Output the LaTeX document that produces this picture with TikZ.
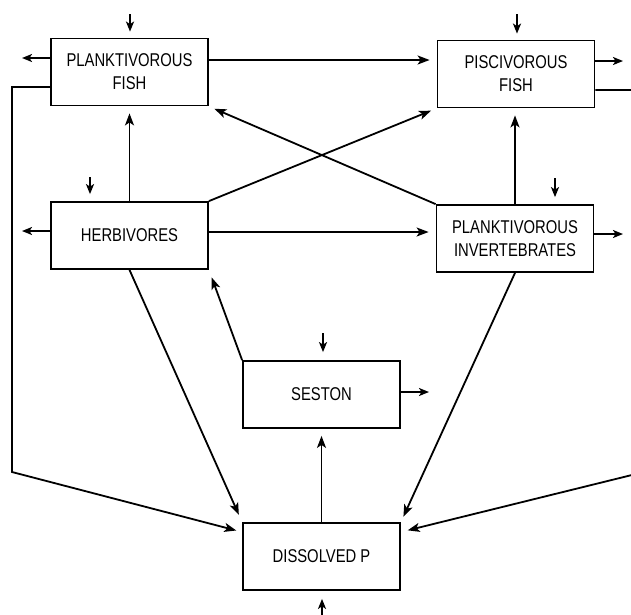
\documentclass[tikz,border=0pt]{standalone}
\usepackage{fontspec}
\setmainfont{Liberation Sans}[FakeStretch=0.8]
\usetikzlibrary{arrows.meta,calc}
\begin{document}
\begin{tikzpicture}[x=1pt,y=-1pt,
  box/.style={draw, line width=1.8pt, minimum width=157pt, minimum height=67pt,
    inner sep=0pt, align=center, font=\fontsize{18.5}{23}\selectfont},
  flow/.style={line width=1.8pt, -{Stealth[length=12pt,width=9pt,inset=3pt]}},
  small/.style={line width=1.8pt, -{Stealth[length=10pt,width=8pt,inset=2.5pt]}}]
\useasboundingbox (0,0) rectangle (631,614);
% boxes
\node[box] (pf)   at (129.5,72)  {PLANKTIVOROUS\\FISH};
\node[box] (pis)  at (516,74)    {PISCIVOROUS\\FISH};
\node[box] (herb) at (129.5,235.5) {HERBIVORES};
\node[box] (pi)   at (515,238.5) {PLANKTIVOROUS\\INVERTEBRATES};
\node[box] (ses)  at (321.5,394.5) {SESTON};
\node[box] (dp)   at (321.5,556.5) {DISSOLVED P};
% free ends
\coordinate (pfin) at (130,14);
\coordinate (pisin) at (517,14);
\coordinate (herbin) at (90,177);
\coordinate (piin) at (555,178);
\coordinate (sesin) at (323,333);
\coordinate (dpin) at (322,616);
\coordinate (pfout) at (22,58);
\coordinate (pisout) at (623,61);
\coordinate (herbout) at (22,231);
\coordinate (piout) at (623,234);
\coordinate (sesout) at (429,392);
\coordinate (l1) at (12,87);
\coordinate (l2) at (12,472);
\coordinate (r1) at (640,90);
\coordinate (r2) at (640,473);
% inputs
\draw[small, shorten >=6pt] (pfin) -- (pfin |- pf.north);
\draw[small, shorten >=6pt] (pisin) -- (pisin |- pis.north);
\draw[small, shorten >=7pt] (herbin) -- (herbin |- herb.north);
\draw[small, shorten >=7pt] (piin) -- (piin |- pi.north);
\draw[small, shorten >=8pt] (sesin) -- (sesin |- ses.north);
\draw[small, shorten >=8pt] (dpin) -- (dpin |- dp.south);
% outputs
\draw[small] ([yshift=14pt]pf.west) -- (pfout);
\draw[small] ([yshift=13pt]pis.east) -- (pisout);
\draw[small] ([yshift=4.5pt]herb.west) -- (herbout);
\draw[small] ([yshift=4.5pt]pi.east) -- (piout);
\draw[small] ([yshift=2.5pt]ses.east) -- (sesout);
% flows
\draw[flow, shorten >=7pt] ([yshift=12pt]pf.east) -- ([yshift=12pt]pf.east -| pis.west);
\draw[flow, shorten >=7pt] (herb.north) -- (pf.south);
\draw[flow, shorten >=6pt] (herb.north east) -- (pis.south west);
\draw[flow, shorten >=7pt] ([yshift=3.5pt]herb.east) -- ([yshift=3.5pt]herb.east -| pi.west);
\draw[flow, shorten >=6pt] (pi.north west) -- (pf.south east);
\draw[flow, shorten >=7pt] (pi.north) -- (pi.north |- pis.south);
\draw[flow, shorten >=8pt] (herb.south) -- (dp.north west);
\draw[flow, shorten >=6pt] (pi.south) -- (dp.north east);
\draw[flow, shorten >=8pt] (ses.north west) -- (herb.south east);
\draw[flow, shorten >=7pt] (dp.north) -- (ses.south);
\draw[flow, shorten >=6pt] ([yshift=-15pt]pf.west) -- (l1) -- (l2) -- ([yshift=24.5pt]dp.west);
\draw[flow, shorten >=7pt] ([yshift=-16pt]pis.east) -- (r1) -- (r2) -- ([yshift=24.5pt]dp.east);
\end{tikzpicture}
\end{document}
